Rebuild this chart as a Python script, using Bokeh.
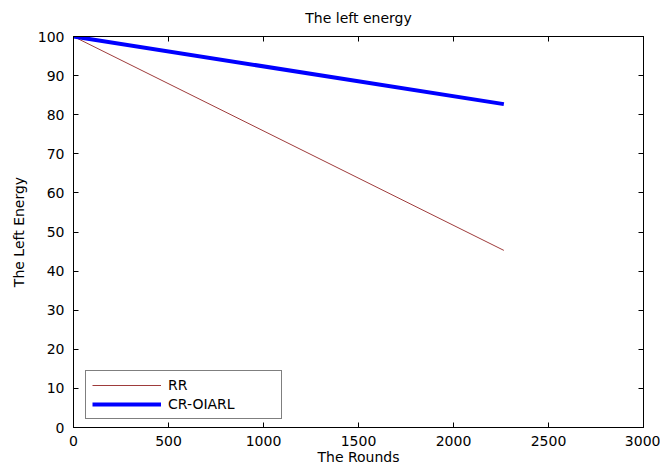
from bokeh.plotting import figure
from bokeh.models import Range1d, SingleIntervalTicker, LinearAxis, Legend
from bokeh.embed import file_html
from bokeh.resources import INLINE

rounds = [0, 2265]
rr_energy = [100, 45.3]
cr_energy = [100, 82.7]

x_ticks_interval = 500
y_ticks_interval = 10

FONT = "DejaVu Sans"

p = figure(width=660, height=468, frame_width=570, frame_height=391,
           output_backend="svg", toolbar_location=None,
           x_range=Range1d(0, 3000), y_range=Range1d(0, 100),
           min_border_left=73, min_border_right=17, min_border_top=36, min_border_bottom=41,
           x_axis_label="The Rounds", y_axis_label="The Left Energy",
           title="The left energy")

p.title.align = "center"
p.title.text_font = FONT
p.title.text_font_size = "14px"
p.title.text_font_style = "normal"
p.title.text_color = "black"
p.title.standoff = 14

p.grid.visible = False
p.outline_line_color = "black"
p.background_fill_color = "white"
p.border_fill_color = "white"

p.xaxis.ticker = SingleIntervalTicker(interval=x_ticks_interval)
p.yaxis.ticker = SingleIntervalTicker(interval=y_ticks_interval)

for ax in (p.xaxis[0], p.yaxis[0]):
    ax.major_tick_in = 5
    ax.major_tick_out = 0
    ax.minor_tick_line_color = None
    ax.axis_line_color = "black"
    ax.major_tick_line_color = "black"
    ax.major_label_text_font = FONT
    ax.major_label_text_font_size = "14px"
    ax.major_label_text_color = "black"
    ax.axis_label_text_font = FONT
    ax.axis_label_text_font_size = "14px"
    ax.axis_label_text_font_style = "normal"
    ax.axis_label_text_color = "black"

p.xaxis.major_label_standoff = 4
p.xaxis.axis_label_standoff = 0
p.yaxis.major_label_standoff = 5
p.yaxis.axis_label_standoff = 8

top_ax = LinearAxis(ticker=SingleIntervalTicker(interval=x_ticks_interval))
right_ax = LinearAxis(ticker=SingleIntervalTicker(interval=y_ticks_interval))
for ax in (top_ax, right_ax):
    ax.major_tick_in = 5
    ax.major_tick_out = 0
    ax.minor_tick_line_color = None
    ax.axis_line_color = "black"
    ax.major_tick_line_color = "black"
    ax.major_label_text_font_size = "1px"
    ax.major_label_text_color = None
    ax.major_label_standoff = 0
p.add_layout(top_ax, "above")
p.add_layout(right_ax, "right")

r1 = p.line(rounds, rr_energy, line_color="#9e3b3b", line_width=1)
r2 = p.line(rounds, cr_energy, line_color="#0000ff", line_width=4)

legend = Legend(items=[("RR", [r1]), ("CR-OIARL", [r2])],
                location=(12, 8), orientation="vertical")
legend.label_text_font = FONT
legend.label_text_font_size = "14px"
legend.label_text_color = "black"
legend.border_line_color = "black"
legend.border_line_width = 1
legend.background_fill_color = "white"
legend.background_fill_alpha = 1
legend.padding = 6
legend.margin = 0
legend.spacing = 3
legend.glyph_width = 69
legend.glyph_height = 16
legend.label_height = 16
legend.label_standoff = 7
legend.label_width = 107
p.add_layout(legend, "center")

open("out.html", "w").write(file_html(p, INLINE))
